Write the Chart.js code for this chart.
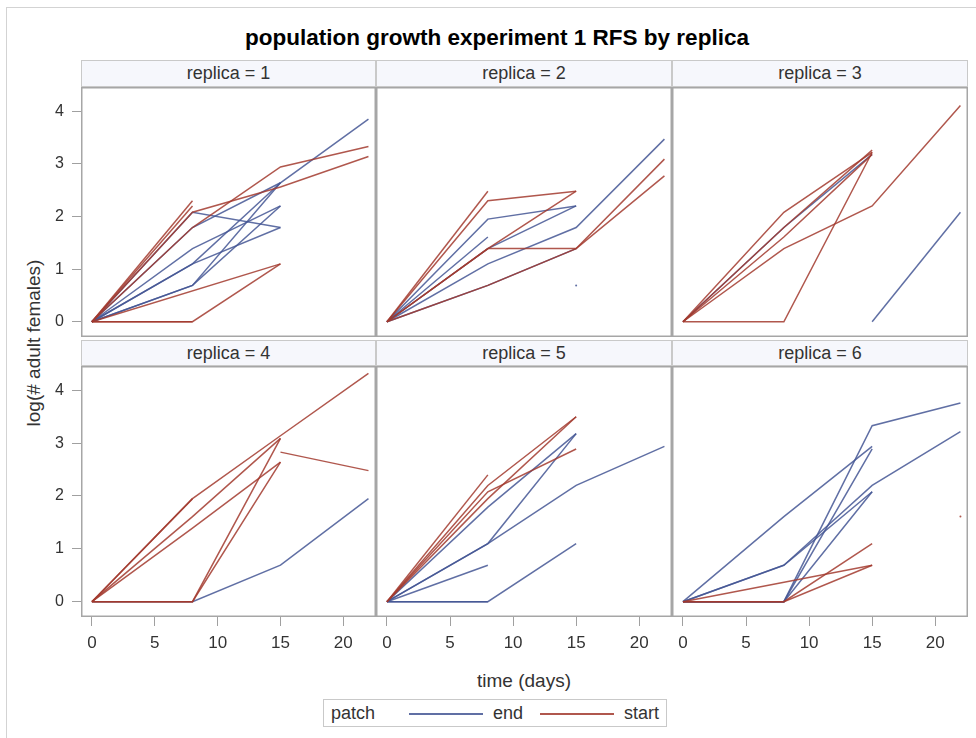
<!DOCTYPE html>
<html>
<head>
<meta charset="utf-8">
<title>population growth experiment 1 RFS by replica</title>
<script src="https://cdn.jsdelivr.net/npm/chart.js@4.4.1/dist/chart.umd.min.js"></script>
<style>
  body { margin: 0; width: 976px; height: 738px; overflow: hidden; background: #fff;
         font-family: "Liberation Sans", Arial, sans-serif; color: #333; position: relative; }
  #frame { position: absolute; left: 6px; top: 7px; width: 990px; height: 760px;
           border-left: 1px solid #d3d3d3; border-top: 1px solid #d3d3d3; }
  #title { position: absolute; left: 497px; top: 25px; transform: translateX(-50%);
           font-weight: bold; font-size: 22.5px; color: #000; white-space: nowrap; }
  .strip { position: absolute; box-sizing: border-box; background: #f6f7fc;
           border: 1px solid #c9c9c9; font-size: 18px; text-align: center; color: #333; }
  .panel { position: absolute; }
  .panel canvas { display: block; }
  #ylabel { position: absolute; left: 34px; top: 343px; transform: translate(-50%, -50%) rotate(-90deg);
            font-size: 19px; white-space: nowrap; }
  #xlabel { position: absolute; left: 524px; top: 681px; transform: translate(-50%, -50%);
            font-size: 19px; white-space: nowrap; }
  #legend { position: absolute; left: 323px; top: 699px; width: 344px; height: 28px;
            box-sizing: border-box; border: 1px solid #c9c9c9; background: #fff; font-size: 18px; }
  #legend span { position: absolute; top: 3px; }
  #legend i { position: absolute; top: 13px; height: 1.5px; }
</style>
</head>
<body>
<div id="frame"></div>
<div id="title">population growth experiment 1 RFS by replica</div>
<div id="ylabel">log(# adult females)</div>
<div id="xlabel">time (days)</div>
<div id="legend"></div>
<script>
const DAYS = [0, 8, 15, 22];
const X_TICKS = [0, 5, 10, 15, 20];
const Y_TICKS = [0, 1, 2, 3, 4];
const PATCHES = ['end', 'start'];
const PATCH_COLORS = ['rgba(68,86,148,0.85)', 'rgba(162,58,46,0.85)'];

// log(# adult females) per patch on DAYS, null where the patch was not counted
const REP1_END = [
  [0, 0.69, 2.20, null],
  [0, 1.10, 2.64, 3.85],
  [0, 2.08, 1.79, null],
  [0, 1.79, 2.64, null],
  [0, 1.39, 2.20, null],
  [0, 1.10, 1.79, null],
  [0, 0.69, 2.64, null]
];
const REP1_START = [
  [0, 2.30, null, null],
  [0, 2.20, null, null],
  [0, 2.08, 2.56, 3.14],
  [0, 1.79, 2.94, 3.33],
  [0, null, 1.10, null],
  [0, 0, 1.10, null],
  [0, 0, null, null]
];
const REP2_END = [
  [0, 1.95, 2.20, null],
  [0, 1.61, null, null],
  [0, 1.10, 1.79, 3.47],
  [0, 1.39, 2.20, null],
  [0, 0.69, 1.39, null],
  [null, null, 0.69, null]
];
const REP2_START = [
  [0, 2.48, null, null],
  [0, 2.30, 2.48, null],
  [0, 1.39, 1.39, 3.09],
  [0, 0.69, 1.39, 2.77],
  [0, 1.39, 2.48, null]
];
const REP3_END = [
  [0, 1.79, 3.18, null],
  [null, null, 0, 2.08]
];
const REP3_START = [
  [0, 0, 3.22, null],
  [0, 2.08, 3.22, null],
  [0, 1.39, 2.20, 4.11],
  [0, 1.79, 3.26, null],
  [0, 1.61, 3.18, null]
];
const REP4_END = [
  [0, 0, 0.69, 1.95]
];
const REP4_START = [
  [0, 1.95, 3.14, 4.32],
  [0, 1.95, null, null],
  [0, 0, 3.09, null],
  [0, 0, 2.64, null],
  [0, 1.39, 2.64, null],
  [0, 1.61, 3.09, null],
  [null, null, 2.83, 2.48]
];
const REP5_END = [
  [0, 1.10, 3.18, null],
  [0, 1.10, 2.20, 2.94],
  [0, 1.79, 3.18, null],
  [0, 0.69, null, null],
  [0, 0, 1.10, null],
  [0, 0, null, null]
];
const REP5_START = [
  [0, 2.40, null, null],
  [0, 2.20, 3.50, null],
  [0, 2.08, 2.89, null],
  [0, 1.95, 3.50, null]
];
const REP6_END = [
  [0, 0, 3.33, 3.76],
  [0, 1.61, 2.94, null],
  [0, 0, 2.89, null],
  [0, 0.69, 2.08, null],
  [0, 0, 2.08, null],
  [0, 0.69, 2.20, 3.22]
];
const REP6_START = [
  [0, 0, 1.10, null],
  [0, 0, 0.69, null],
  [0, null, 0.69, null],
  [null, null, null, 1.61]
];

const REPLICAS = [
  [1, REP1_END, REP1_START],
  [2, REP2_END, REP2_START],
  [3, REP3_END, REP3_START],
  [4, REP4_END, REP4_START],
  [5, REP5_END, REP5_START],
  [6, REP6_END, REP6_START]
];

// panel grid (plot area edges in page pixels)
const COLS = [[81, 376], [376, 672], [672, 968]];
const ROWS = [[87, 337], [366, 617]];
const STRIP_TOP = [60, 340];
const AXIS_LEFT = 20, AXIS_BOTTOM = 666;

Chart.defaults.font.family = '"Liberation Sans", Arial, sans-serif';
Chart.defaults.color = '#333';

const panelFrame = {
  id: 'panelFrame',
  afterDraw(chart) {
    const { ctx, chartArea: a } = chart;
    ctx.save();
    ctx.strokeStyle = '#a6a6a6';
    ctx.lineWidth = 1.5;
    ctx.strokeRect(a.left + 0.75, a.top + 0.75, a.width - 1.5, a.height - 1.5);
    ctx.restore();
  }
};

function toPoints(row) {
  const pts = [];
  row.forEach((v, i) => { if (v !== null) pts.push({ x: DAYS[i], y: v }); });
  return pts;
}

function makeSets(rows, k) {
  return rows.map(row => {
    const pts = toPoints(row);
    return {
      label: PATCHES[k],
      data: pts,
      borderColor: PATCH_COLORS[k],
      backgroundColor: PATCH_COLORS[k],
      borderWidth: 1.5,
      pointRadius: pts.length === 1 ? 1 : 0,
      pointBorderWidth: 0,
      tension: 0,
      order: k === 1 ? 0 : 1   // start lines on top of end lines
    };
  });
}

// fixed axis sizes so every panel gets the same plot area
function fixAxis(size) {
  return s => {
    s.paddingLeft = s.paddingRight = s.paddingTop = s.paddingBottom = 0;
    if (s.isHorizontal()) s.height = size; else s.width = size;
  };
}

REPLICAS.forEach(([rep, endRows, startRows], idx) => {
  const c = idx % 3, r = Math.floor(idx / 3);
  const [pl, pr] = COLS[c];
  const [pt, pb] = ROWS[r];
  const showX = r === 1, showY = c === 0;

  const strip = document.createElement('div');
  strip.className = 'strip';
  strip.style.left = pl + 'px';
  strip.style.top = STRIP_TOP[r] + 'px';
  strip.style.width = (pr - pl) + 'px';
  strip.style.height = (pt - STRIP_TOP[r]) + 'px';
  strip.style.lineHeight = (pt - STRIP_TOP[r] - 2) + 'px';
  strip.textContent = 'replica = ' + rep;
  document.body.appendChild(strip);

  const left = showY ? AXIS_LEFT : pl;
  const bottom = showX ? AXIS_BOTTOM : pb;
  const box = document.createElement('div');
  box.className = 'panel';
  box.style.left = left + 'px';
  box.style.top = pt + 'px';
  const cv = document.createElement('canvas');
  cv.width = pr - left;
  cv.height = bottom - pt;
  box.appendChild(cv);
  document.body.appendChild(box);

  new Chart(cv, {
    type: 'line',
    data: { datasets: makeSets(endRows, 0).concat(makeSets(startRows, 1)) },
    options: {
      responsive: false,
      animation: false,
      events: [],
      layout: { padding: 0, autoPadding: false },
      plugins: { legend: { display: false }, tooltip: { enabled: false } },
      scales: {
        x: {
          type: 'linear', min: -0.87, max: 22.6,
          display: showX,
          afterBuildTicks: s => { s.ticks = X_TICKS.map(v => ({ value: v })); },
          afterFit: fixAxis(showX ? AXIS_BOTTOM - pb : 0),
          ticks: { display: showX, font: { size: 17 }, padding: 7, maxRotation: 0, autoSkip: false },
          grid: { drawOnChartArea: false, tickLength: 9, tickColor: '#a0a0a0' },
          border: { display: false }
        },
        y: {
          type: 'linear', min: -0.29, max: 4.46,
          display: showY,
          afterBuildTicks: s => { s.ticks = Y_TICKS.map(v => ({ value: v })); },
          afterFit: fixAxis(showY ? pl - AXIS_LEFT : 0),
          ticks: { display: showY, font: { size: 16 }, padding: 8 },
          grid: { drawOnChartArea: false, tickLength: 9, tickColor: '#a0a0a0' },
          border: { display: false }
        }
      }
    },
    plugins: [panelFrame]
  });
});

// patch legend
const legend = document.getElementById('legend');
const LEGEND_POS = [[85, 159, 169], [216, 290, 300]];
let html = '<span style="left:7px">patch</span>';
PATCHES.forEach((p, k) => {
  const [x0, x1, tx] = LEGEND_POS[k];
  html += '<i style="left:' + x0 + 'px;width:' + (x1 - x0) + 'px;background:' +
    PATCH_COLORS[k] + '"></i><span style="left:' + tx + 'px">' + p + '</span>';
});
legend.innerHTML = html;
</script>
</body>
</html>
